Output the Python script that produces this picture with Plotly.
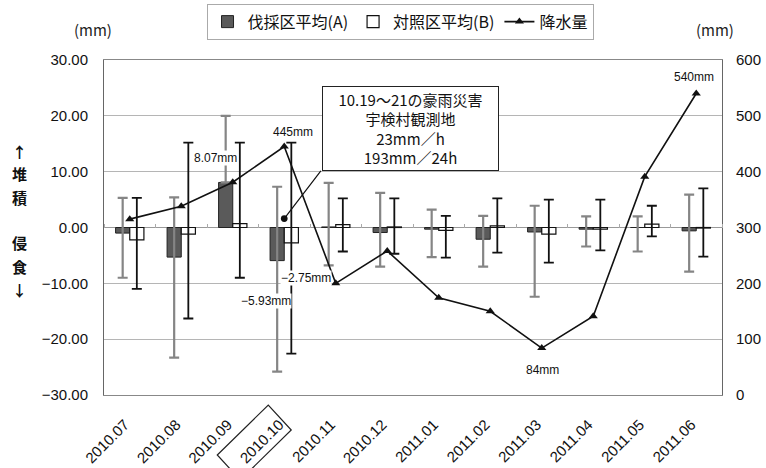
import plotly.graph_objects as go

months = ["2010.07", "2010.08", "2010.09", "2010.10", "2010.11", "2010.12",
          "2011.01", "2011.02", "2011.03", "2011.04", "2011.05", "2011.06"]

# 伐採区平均(A)
a_mean = [-1.0, -5.3, 8.07, -5.93, 0.1, -0.9, -0.3, -2.1, -0.8, -0.3, 0.0, -0.6]
a_top = [5.3, 5.4, 20.0, 7.3, 8.0, 6.2, 3.2, 2.1, 3.9, 2.0, 2.0, 5.9]
a_bottom = [-9.0, -23.3, 8.07, -25.8, -6.8, -7.0, -5.3, -7.0, -12.4, -3.4, -4.3, -7.9]

# 対照区平均(B)
b_mean = [-2.2, -1.2, 0.7, -2.75, 0.5, 0.1, -0.5, 0.3, -1.2, -0.3, 0.6, -0.1]
b_top = [5.3, 15.2, 15.2, 15.2, 5.2, 5.2, 2.1, 5.2, 5.0, 5.0, 3.9, 7.0]
b_bottom = [-11.0, -16.3, -9.0, -22.6, -4.3, -4.7, -5.4, -4.5, -6.3, -4.1, -1.6, -5.2]

# 降水量 (mm)
rain = [315, 338, 381, 445, 200, 258, 174, 150, 84, 141, 391, 540]

left_ticks = [30, 20, 10, 0, -10, -20, -30]
right_ticks = [0, 100, 200, 300, 400, 500, 600]

FONT = "Liberation Sans, Noto Sans CJK JP, sans-serif"
JP = "Noto Sans CJK JP, sans-serif"

a_plus = [t - m for t, m in zip(a_top, a_mean)]
a_minus = [m - b for m, b in zip(a_mean, a_bottom)]
b_plus = [t - m for t, m in zip(b_top, b_mean)]
b_minus = [m - b for m, b in zip(b_mean, b_bottom)]

n = len(months)

fig = go.Figure()
fig.add_trace(go.Bar(
    x=months, y=a_mean, name="伐採区平均(A)",
    marker=dict(color="#5a5a5a", line=dict(color="#222", width=1)),
    error_y=dict(type="data", symmetric=False, array=a_plus, arrayminus=a_minus,
                 color="#858585", thickness=2.2, width=5),
))
fig.add_trace(go.Bar(
    x=months, y=b_mean, name="対照区平均(B)",
    marker=dict(color="white", line=dict(color="#111", width=1.2)),
    error_y=dict(type="data", symmetric=False, array=b_plus, arrayminus=b_minus,
                 color="#111", thickness=1.8, width=5),
))
fig.add_trace(go.Scatter(
    x=months, y=rain, name="降水量", yaxis="y2", mode="lines+markers",
    line=dict(color="#111", width=1.6),
    marker=dict(symbol="triangle-up", size=8, color="#111"),
))
# empty helper trace so the zero-line category axis (boundary ticks) is drawn
fig.add_trace(go.Scatter(x=[], y=[], xaxis="x2", showlegend=False,
                         hoverinfo="skip"))

# value labels
lab = dict(showarrow=False, font=dict(family=FONT, size=12, color="#111"),
           bgcolor="white", borderpad=0, xanchor="center", yanchor="middle")
fig.add_annotation(x=2, y=12.4, yref="y", xshift=-17, text="8.07mm", **lab)
fig.add_annotation(x=3, y=471, yref="y2", xshift=9, text="445mm", **lab)
fig.add_annotation(x=3, y=-9.0, yref="y", xshift=22, text="−2.75mm", **lab)
fig.add_annotation(x=3, y=-13.1, yref="y", xshift=-18, text="−5.93mm", **lab)
fig.add_annotation(x=8, y=45, yref="y2", xshift=1, text="84mm", **lab)
fig.add_annotation(x=11, y=570, yref="y2", xshift=-2, text="540mm", **lab)

# callout box
fig.add_annotation(
    x=0.496, y=0.796, xref="paper", yref="paper", showarrow=False,
    xanchor="center", yanchor="middle",
    text="10.19～21の豪雨災害<br>宇検村観測地<br>23mm／h<br>193mm／24h",
    font=dict(family=JP, size=15, color="#111"), align="center",
    bgcolor="white", bordercolor="#222", borderwidth=1, borderpad=3,
    width=169, height=77,
)
fig.add_annotation(
    x=3, y=1.6, xref="x", yref="y", ax=3.733, ay=10.4, axref="x", ayref="y",
    text="", showarrow=True, arrowhead=6, arrowsize=1.4, arrowwidth=1.2,
    arrowcolor="#111",
)

# unit labels
unit = dict(showarrow=False, xref="paper", yref="paper", xanchor="center",
            yanchor="middle", font=dict(family=JP, size=15, color="#222"))
fig.add_annotation(x=-0.018, y=1.09, text="(mm)", **unit)
fig.add_annotation(x=0.989, y=1.09, text="(mm)", **unit)

# vertical side text
side_chars = ["↑", "堆", "積", "侵", "食", "↓"]
side_y = [0.728, 0.660, 0.591, 0.454, 0.385, 0.316]
for ch, yy in zip(side_chars, side_y):
    fig.add_annotation(x=-0.136, y=yy, xref="paper", yref="paper",
                       text=f"<b>{ch}</b>", showarrow=False,
                       xanchor="center", yanchor="middle", borderpad=0,
                       font=dict(family=JP, size=15, color="#111"))

# diamond box around 2010.10 tick label
ci = months.index("2010.10")
offs = [(-67, 60), (-16, 10), (7, 35), (-44, 85)]
pts = [((ci + 0.5 + dx / 51.5) / n, -dy / 335.0) for dx, dy in offs]
path = "M " + " L ".join(f"{px:.4f},{py:.4f}" for px, py in pts) + " Z"
fig.add_shape(type="path", path=path, xref="paper", yref="paper",
              line=dict(color="#222", width=1.2))

fig.update_layout(
    width=766, height=468,
    margin=dict(l=104, r=44, t=60, b=73, autoexpand=False),
    paper_bgcolor="white", plot_bgcolor="white",
    barmode="group", bargap=0.45, bargroupgap=0.0,
    font=dict(family=FONT, color="#111"),
    showlegend=True,
    legend=dict(orientation="h", x=0.479, xanchor="center", y=1.168, yanchor="top",
                bordercolor="#aaa", borderwidth=1, bgcolor="white",
                font=dict(family=JP, size=16, color="#111"),
                itemwidth=30, tracegroupgap=0),
    xaxis=dict(type="category", showline=True, linecolor="#888", mirror=True,
               ticks="", tickangle=-45, ticklabelstandoff=14, ticklabelshift=-5,
               tickfont=dict(family=FONT, size=15, color="#111"),
               showgrid=False, range=[-0.5, n - 0.5]),
    xaxis2=dict(overlaying="x", anchor="free", position=0.5, side="top",
                range=[-0.5, n - 0.5], tickvals=[i - 0.5 for i in range(n + 1)],
                ticks="outside", ticklen=4, tickcolor="#aaa",
                showticklabels=False, showgrid=False, showline=False,
                zeroline=False),
    yaxis=dict(range=[-30, 30], tickvals=left_ticks, tickformat=".2f",
               showgrid=True, gridcolor="#b5b5b5", gridwidth=1,
               zeroline=True, zerolinecolor="#999", zerolinewidth=1,
               showline=True, linecolor="#666", ticks="", ticklabelstandoff=12,
               tickfont=dict(family=FONT, size=15, color="#111")),
    yaxis2=dict(range=[0, 600], tickvals=right_ticks, overlaying="y", side="right",
                showgrid=False, zeroline=False, showline=True, linecolor="#666",
                ticks="", ticklabelstandoff=10,
                tickfont=dict(family=FONT, size=15, color="#111")),
)

fig.write_html("out.html", config={"displayModeBar": False},
               post_script="document.body.style.margin='0';document.body.style.overflow='hidden';")
